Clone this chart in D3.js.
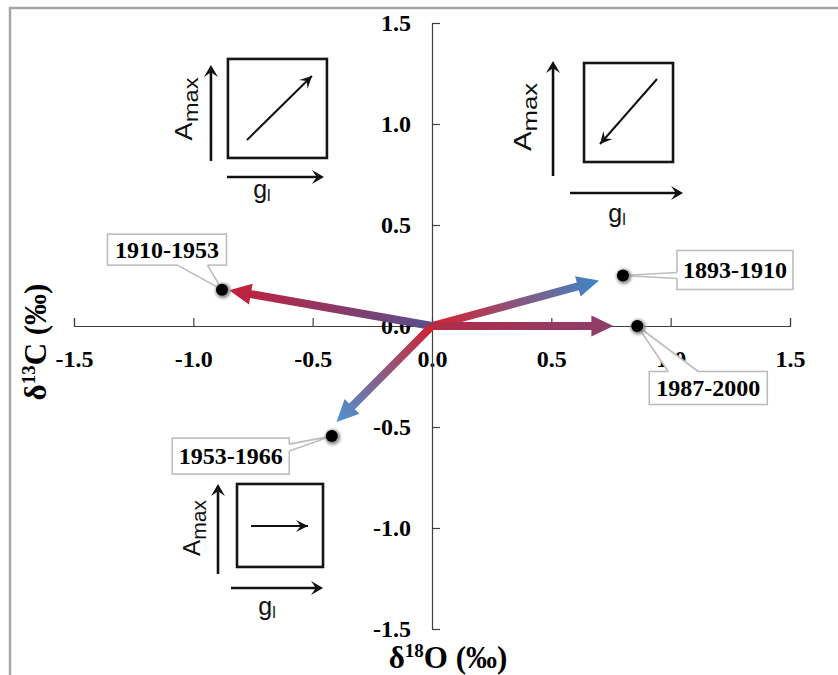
<!DOCTYPE html>
<html>
<head>
<meta charset="utf-8">
<script src="https://cdn.jsdelivr.net/npm/d3@7"></script>
<style>
  html, body { margin: 0; padding: 0; background: #fff; }
  svg { display: block; }
</style>
</head>
<body>
<svg id="chart" width="838" height="675"></svg>
<script>
// Isotope periods: δ18O / δ13C shifts
const periods = ["1893-1910", "1987-2000", "1910-1953", "1953-1966"];
const d18O = [0.80, 0.86, -0.88, -0.42];
const d13C = [0.25, 0.00, 0.18, -0.545];

// Arrow tips (drawn from the origin toward each period)
const arrowX = [0.70, 0.76, -0.85, -0.40];
const arrowY = [0.225, 0.00, 0.177, -0.475];
const arrowFrom = ["#dc1f2b", "#b22c48", "#56508f", "#d0222e"];
const arrowTo = ["#3b88c9", "#8d3d6b", "#c61f3a", "#4a94d4"];

// Axis ticks
const tickValues = [-1.5, -1.0, -0.5, 0.0, 0.5, 1.0, 1.5];
const tickLabels = ["-1.5", "-1.0", "-0.5", "0.0", "0.5", "1.0", "1.5"];

const svg = d3.select("#chart");
const W = 838, H = 675;

const x = d3.scaleLinear().domain([-1.5, 1.5]).range([74, 790]);
const y = d3.scaleLinear().domain([-1.5, 1.5]).range([629, 23]);

// outer frame (top and left edges)
svg.append("path")
  .attr("d", `M10,${H} V8 H${W}`)
  .attr("fill", "none")
  .attr("stroke", "#a6a6a6")
  .attr("stroke-width", 2.5);

const serif = "'Liberation Serif', 'Times New Roman', serif";
const sans = "'Liberation Sans', Arial, sans-serif";

// axes crossing at the origin
const fmt = d => tickLabels[tickValues.indexOf(d)];
const xAxis = svg.append("g")
  .attr("transform", `translate(0,${y(0)})`)
  .call(d3.axisBottom(x).tickValues(tickValues).tickFormat(fmt)
    .tickSizeInner(-8).tickSizeOuter(-8).tickPadding(24));
const yAxis = svg.append("g")
  .attr("transform", `translate(${x(0)},0)`)
  .call(d3.axisLeft(y).tickValues(tickValues).tickFormat(fmt)
    .tickSizeInner(-8).tickSizeOuter(-8).tickPadding(21));

[xAxis, yAxis].forEach(g => {
  g.selectAll("path, line").attr("stroke", "#404040").attr("stroke-width", 1.2);
  g.selectAll("text")
    .attr("fill", "#000")
    .style("font-family", serif)
    .style("font-weight", "bold")
    .style("font-size", "24px");
});

// axis titles
const xt = svg.append("text")
  .attr("x", 448).attr("y", 668)
  .attr("text-anchor", "middle")
  .style("font-family", serif).style("font-weight", "bold").style("font-size", "31px");
xt.append("tspan").text("δ");
xt.append("tspan").attr("dy", -11).style("font-size", "19px").text("18");
xt.append("tspan").attr("dy", 11).text("O (‰)");

const yt = svg.append("text")
  .attr("transform", "translate(46,342) rotate(-90)")
  .attr("text-anchor", "middle")
  .style("font-family", serif).style("font-weight", "bold").style("font-size", "31px");
yt.append("tspan").text("δ");
yt.append("tspan").attr("dy", -11).style("font-size", "19px").text("13");
yt.append("tspan").attr("dy", 11).text("C (‰)");

// gradient arrows from the origin
const defs = svg.append("defs");
const shaftHalf = 4, headLen = 22, headHalf = 10.5;
periods.forEach((p, i) => {
  const sx = x(0), sy = y(0), tx = x(arrowX[i]), ty = y(arrowY[i]);
  const len = Math.hypot(tx - sx, ty - sy);
  const ux = (tx - sx) / len, uy = (ty - sy) / len;
  const nx = -uy, ny = ux;
  const bx = tx - ux * headLen, by = ty - uy * headLen;
  const gid = "grad" + i;
  const g = defs.append("linearGradient").attr("id", gid)
    .attr("gradientUnits", "userSpaceOnUse")
    .attr("x1", sx).attr("y1", sy).attr("x2", tx).attr("y2", ty);
  g.append("stop").attr("offset", "0%").attr("stop-color", arrowFrom[i]);
  g.append("stop").attr("offset", "100%").attr("stop-color", arrowTo[i]);
  const pts = [
    [sx + nx * shaftHalf, sy + ny * shaftHalf],
    [bx + nx * shaftHalf, by + ny * shaftHalf],
    [bx + nx * headHalf, by + ny * headHalf],
    [tx, ty],
    [bx - nx * headHalf, by - ny * headHalf],
    [bx - nx * shaftHalf, by - ny * shaftHalf],
    [sx - nx * shaftHalf, sy - ny * shaftHalf]
  ];
  svg.append("polygon")
    .attr("points", pts.map(q => q.join(",")).join(" "))
    .attr("fill", `url(#${gid})`);
});

// callout boxes: offset of box centre from the dot, box size, and the pointer base
const callouts = [
  { dx: 112, dy: -5.5, w: 116, h: 39, side: "left", a: 22, b: 28 },
  { dx: 71, dy: 62, w: 118, h: 33, side: "top", a: 19, b: 49 },
  { dx: -55, dy: -40, w: 119, h: 31, side: "bottom", a: 70, b: 100 },
  { dx: -101, dy: 20, w: 117, h: 36, side: "right", a: 6, b: 13 }
];

const labelLayer = svg.append("g");
periods.forEach((p, i) => {
  const px = x(d18O[i]), py = y(d13C[i]);
  const c = callouts[i];
  const left = px + c.dx - c.w / 2, top = py + c.dy - c.h / 2;
  let b1, b2, in1, in2;
  if (c.side === "left") { b1 = [left, top + c.a]; b2 = [left, top + c.b]; in1 = [left + 2, top + c.a]; in2 = [left + 2, top + c.b]; }
  if (c.side === "right") { b1 = [left + c.w, top + c.a]; b2 = [left + c.w, top + c.b]; in1 = [left + c.w - 2, top + c.a]; in2 = [left + c.w - 2, top + c.b]; }
  if (c.side === "top") { b1 = [left + c.a, top]; b2 = [left + c.b, top]; in1 = [left + c.a, top + 2]; in2 = [left + c.b, top + 2]; }
  if (c.side === "bottom") { b1 = [left + c.a, top + c.h]; b2 = [left + c.b, top + c.h]; in1 = [left + c.a, top + c.h - 2]; in2 = [left + c.b, top + c.h - 2]; }
  const g = labelLayer.append("g");
  g.append("rect")
    .attr("x", left).attr("y", top).attr("width", c.w).attr("height", c.h)
    .attr("fill", "#fff").attr("stroke", "#bdbdbd").attr("stroke-width", 1.6);
  g.append("polygon")
    .attr("points", [in1, b1, [px, py], b2, in2].map(q => q.join(",")).join(" "))
    .attr("fill", "#fff");
  g.append("path")
    .attr("d", `M${b1[0]},${b1[1]} L${px},${py} L${b2[0]},${b2[1]}`)
    .attr("fill", "none").attr("stroke", "#bdbdbd").attr("stroke-width", 1.6);
  g.append("text")
    .attr("x", left + c.w / 2).attr("y", top + c.h / 2)
    .attr("dy", "0.35em")
    .attr("text-anchor", "middle")
    .style("font-family", serif).style("font-weight", "bold").style("font-size", "24px")
    .text(p);
});

// period points with a soft halo
const blur = defs.append("filter").attr("id", "soft")
  .attr("x", "-50%").attr("y", "-50%").attr("width", "200%").attr("height", "200%");
blur.append("feGaussianBlur").attr("stdDeviation", 1.6);
svg.append("g").selectAll("circle.halo").data(periods).join("circle")
  .attr("cx", (d, i) => x(d18O[i]) + 1).attr("cy", (d, i) => y(d13C[i]) + 1)
  .attr("r", 7.5).attr("fill", "#8a8a8a").attr("filter", "url(#soft)");
svg.append("g").selectAll("circle.dot").data(periods).join("circle")
  .attr("cx", (d, i) => x(d18O[i])).attr("cy", (d, i) => y(d13C[i]))
  .attr("r", 6).attr("fill", "#000");

// Amax vs gl response diagrams
const insets = [
  { ax: -0.855, ay: 1.322, w: 99, h: 99, vx: -17, vy1: 102, vy2: 6, tx: -36, ty: 50, tlen: 63,
    hy: 118, hx1: -1, hx2: 96, gx: 34, gy: 132, inner: [19, 81, 84, 17] },
  { ax: 0.637, ay: 1.302, w: 89, h: 99, vx: -31, vy1: 113, vy2: -2, tx: -53, ty: 54, tlen: 68,
    hy: 130, hx1: -14, hx2: 99, gx: 33, gy: 152, inner: [73, 16, 16, 81] },
  { ax: -0.817, ay: -0.782, w: 86, h: 83, vx: -19, vy1: 90, vy2: 0, tx: -37, ty: 44, tlen: 56,
    hy: 104, hx1: -6, hx2: 86, gx: 30, gy: 124, inner: [14, 42, 71, 42] }
];

function arrowHead(g, x1, y1, x2, y2, len, half) {
  const L = Math.hypot(x2 - x1, y2 - y1);
  const ux = (x2 - x1) / L, uy = (y2 - y1) / L, nx = -uy, ny = ux;
  const bx = x2 - ux * len, by = y2 - uy * len;
  const mx = x2 - ux * len * 0.6, my = y2 - uy * len * 0.6;
  g.append("polygon")
    .attr("points", [[x2, y2], [bx + nx * half, by + ny * half], [mx, my], [bx - nx * half, by - ny * half]]
      .map(q => q.join(",")).join(" "))
    .attr("fill", "#111");
}

insets.forEach(s => {
  const g = svg.append("g").attr("transform", `translate(${x(s.ax)},${y(s.ay)})`);
  g.append("rect").attr("width", s.w).attr("height", s.h)
    .attr("fill", "#fff").attr("stroke", "#151515").attr("stroke-width", 2.6);
  const [a, b, c, d] = s.inner;
  g.append("line").attr("x1", a).attr("y1", b).attr("x2", c).attr("y2", d)
    .attr("stroke", "#111").attr("stroke-width", 2);
  arrowHead(g, a, b, c, d, 12, 6);
  g.append("line").attr("x1", s.vx).attr("y1", s.vy1).attr("x2", s.vx).attr("y2", s.vy2 + 6)
    .attr("stroke", "#111").attr("stroke-width", 2.6);
  arrowHead(g, s.vx, s.vy1, s.vx, s.vy2, 12, 7);
  g.append("line").attr("x1", s.hx1).attr("y1", s.hy).attr("x2", s.hx2 - 6).attr("y2", s.hy)
    .attr("stroke", "#111").attr("stroke-width", 2.6);
  arrowHead(g, s.hx1, s.hy, s.hx2, s.hy, 12, 7);
  const t = g.append("text")
    .attr("transform", `translate(${s.tx},${s.ty}) rotate(-90)`)
    .attr("text-anchor", "middle")
    .attr("textLength", s.tlen).attr("lengthAdjust", "spacingAndGlyphs")
    .style("font-family", sans).style("font-size", "24px").attr("fill", "#111");
  t.append("tspan").text("A");
  t.append("tspan").attr("dy", 6).style("font-size", "21px").text("max");
  const gt = g.append("text")
    .attr("x", s.gx).attr("y", s.gy).attr("dy", "0.3em")
    .attr("text-anchor", "middle")
    .style("font-family", sans).style("font-size", "25px").attr("fill", "#111");
  gt.append("tspan").text("g");
  gt.append("tspan").attr("dy", 3).style("font-size", "16px").text("l");
});
</script>
</body>
</html>
